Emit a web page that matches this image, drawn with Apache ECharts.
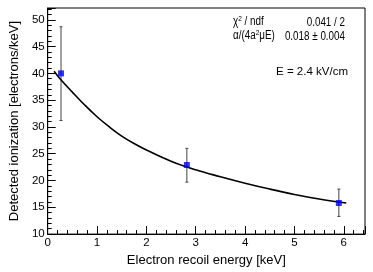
<!DOCTYPE html>
<html><head><meta charset="utf-8">
<script src="https://cdn.jsdelivr.net/npm/echarts@6/dist/echarts.min.js"></script>
<style>html,body{margin:0;padding:0;background:#fff}#c{width:373px;height:272px}</style>
</head><body><div id="c"></div>
<script>
// measured points
const pointX = [0.27, 2.82, 5.90];
const pointY = [40.0, 22.9, 15.8];
const errLow = [8.8, 3.2, 2.5];
const errHigh = [8.7, 3.1, 2.6];
// fit curve
const curveX = [0.13, 0.25, 0.5, 0.75, 1.0, 1.25, 1.5, 1.75, 2.0, 2.5, 3.0, 3.5, 4.0, 4.5, 5.0, 5.5, 6.05];
const curveY = [40.4, 39.0, 36.5, 34.1, 31.9, 30.0, 28.3, 26.9, 25.7, 23.6, 22.0, 20.7, 19.5, 18.4, 17.4, 16.55, 15.8];
const statNames = ['{n|\u03c7}{s|2}{n| / ndf}', '{n|\u03b1/(4a}{s|2}{n|\u03bcE)}'];
const statValues = ['0.041 / 2', '0.018 \u00b1 0.004'];
const fieldLabel = 'E = 2.4 kV/cm';
const xTitle = 'Electron recoil energy [keV]';
const yTitle = 'Detected ionization [electrons/keV]';

const font = '"Liberation Sans", Arial, sans-serif';
const chart = echarts.init(document.getElementById('c'), null, {renderer: 'canvas'});
const errData = pointX.map((x, i) => [x, pointY[i] - errLow[i], pointY[i] + errHigh[i]]);
const curveData = curveX.map((x, i) => [x, curveY[i]]);
const scatterData = pointX.map((x, i) => [x, pointY[i]]);
const rich = {
  n: {fontFamily: font, fontSize: 12, color: '#000', verticalAlign: 'bottom', lineHeight: 13},
  s: {fontFamily: font, fontSize: 8, color: '#000', verticalAlign: 'top', lineHeight: 13, padding: [0, 0, 4, 0]}
};

chart.setOption({
  animation: false,
  grid: {left: 42, top: 8, right: 8, bottom: 33, show: true, borderColor: '#000', borderWidth: 1, backgroundColor: 'transparent'},
  xAxis: {
    type: 'value', min: 0, max: 6.43, interval: 1,
    name: xTitle, nameLocation: 'middle', nameGap: 19,
    nameTextStyle: {fontFamily: font, fontSize: 13, color: '#000'},
    axisLine: {show: true, lineStyle: {color: '#000', width: 1}},
    axisTick: {show: true, inside: true, length: 8, lineStyle: {color: '#000'}},
    minorTick: {show: true, splitNumber: 5, length: 4, lineStyle: {color: '#000'}},
    axisLabel: {fontFamily: font, fontSize: 11.5, color: '#000', margin: 3, showMaxLabel: false},
    splitLine: {show: false}
  },
  yAxis: {
    type: 'value', min: 10, max: 52.2, interval: 5,
    name: yTitle, nameLocation: 'middle', nameGap: 25,
    nameTextStyle: {fontFamily: font, fontSize: 13, color: '#000'},
    axisLine: {show: true, lineStyle: {color: '#000', width: 1}},
    axisTick: {show: true, inside: true, length: 8, lineStyle: {color: '#000'}},
    minorTick: {show: true, splitNumber: 5, length: 4, lineStyle: {color: '#000'}},
    axisLabel: {fontFamily: font, fontSize: 11.5, color: '#000', margin: 3, showMaxLabel: false},
    splitLine: {show: false}
  },
  series: [
    {
      type: 'line', data: curveData, smooth: 0.4, symbol: 'none',
      lineStyle: {color: '#000', width: 1.6}, z: 3
    },
    {
      type: 'custom', data: errData, z: 2,
      renderItem: function (params, api) {
        const x = api.value(0);
        const lo = api.coord([x, api.value(1)]);
        const hi = api.coord([x, api.value(2)]);
        const style = {stroke: '#444', lineWidth: 1};
        return {type: 'group', children: [
          {type: 'line', shape: {x1: lo[0], y1: lo[1], x2: hi[0], y2: hi[1]}, style: style},
          {type: 'line', shape: {x1: lo[0] - 1.5, y1: lo[1], x2: lo[0] + 1.5, y2: lo[1]}, style: style},
          {type: 'line', shape: {x1: hi[0] - 1.5, y1: hi[1], x2: hi[0] + 1.5, y2: hi[1]}, style: style}
        ]};
      }
    },
    {
      type: 'scatter', data: scatterData, symbol: 'rect', symbolSize: 6,
      itemStyle: {color: '#0000ff'}, z: 4
    }
  ],
  graphic: [
    {type: 'text', x: 233, y: 15, scaleX: 0.82, style: {text: statNames[0], rich: rich}},
    {type: 'text', x: 233, y: 29, scaleX: 0.82, style: {text: statNames[1], rich: rich}},
    {type: 'text', x: 345, y: 17, scaleX: 0.82, style: {text: statValues[0], font: '12px ' + font, fill: '#000', align: 'right', verticalAlign: 'top'}},
    {type: 'text', x: 345, y: 31, scaleX: 0.82, style: {text: statValues[1], font: '12px ' + font, fill: '#000', align: 'right', verticalAlign: 'top'}},
    {type: 'text', x: 348, y: 66, style: {text: fieldLabel, font: '11.5px ' + font, fill: '#000', align: 'right', verticalAlign: 'top'}}
  ]
});
</script></body></html>
